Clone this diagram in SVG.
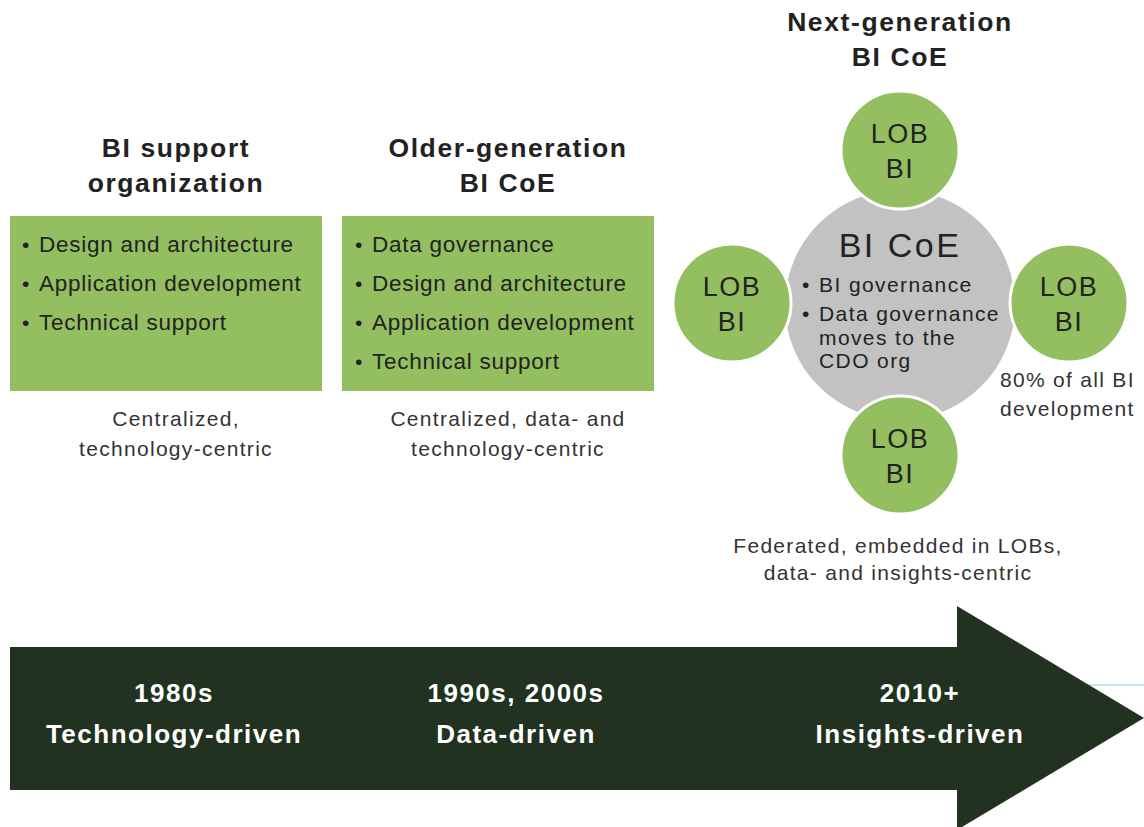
<svg xmlns="http://www.w3.org/2000/svg" width="1144" height="827" viewBox="0 0 1144 827">
<style>
.t{font-family:"Liberation Sans",Arial,sans-serif;}
.title{font-size:26.5px;font-weight:bold;fill:#222;text-anchor:middle;letter-spacing:1.6px;}
.item{font-size:22.5px;fill:#222;letter-spacing:0.75px;}
.bul{font-size:21px;fill:#222;}
.cap{font-size:21px;fill:#333;letter-spacing:1.3px;}
.capm{font-size:21px;fill:#333;text-anchor:middle;letter-spacing:1.3px;}
.lob{font-size:27px;fill:#222;text-anchor:middle;letter-spacing:1.5px;}
.era{font-size:26px;font-weight:bold;fill:#fff;text-anchor:middle;letter-spacing:1.5px;}
.gi{font-size:21px;fill:#222;letter-spacing:1.4px;}
.box{fill:#93bf61;}
.lobc{fill:#93bf61;stroke:#fff;stroke-width:3;}
</style>
<rect width="1144" height="827" fill="#fff"/>
<g id="connectors">
<line x1="1088" y1="685" x2="1144" y2="685" stroke="#9cc6e0" stroke-width="1"/>
<polygon id="timeline-arrow" points="10,647 957,647 957,606 1144,718 957,830 957,790 10,790" fill="#213320"/>
</g>
<g id="era1" class="t">
<text class="era" x="174" y="702">1980s</text>
<text class="era" x="174" y="743">Technology-driven</text>
</g>
<g id="era2" class="t">
<text class="era" x="516" y="702">1990s, 2000s</text>
<text class="era" x="516" y="743">Data-driven</text>
</g>
<g id="era3" class="t">
<text class="era" x="920" y="702">2010+</text>
<text class="era" x="920" y="743">Insights-driven</text>
</g>
<g id="stage1" class="t">
<text class="title" x="176" y="157">BI support</text>
<text class="title" x="176" y="192">organization</text>
<rect class="box" x="10" y="216" width="312" height="175"/>
<text class="bul" x="22" y="252">•</text><text class="item" x="39" y="252">Design and architecture</text>
<text class="bul" x="22" y="291">•</text><text class="item" x="39" y="291">Application development</text>
<text class="bul" x="22" y="330">•</text><text class="item" x="39" y="330">Technical support</text>
<text class="capm" x="176" y="426">Centralized,</text>
<text class="capm" x="176" y="456">technology-centric</text>
</g>
<g id="stage2" class="t">
<text class="title" x="508" y="157">Older-generation</text>
<text class="title" x="508" y="192">BI CoE</text>
<rect class="box" x="342" y="216" width="312" height="175"/>
<text class="bul" x="355" y="252">•</text><text class="item" x="372" y="252">Data governance</text>
<text class="bul" x="355" y="291">•</text><text class="item" x="372" y="291">Design and architecture</text>
<text class="bul" x="355" y="330">•</text><text class="item" x="372" y="330">Application development</text>
<text class="bul" x="355" y="369">•</text><text class="item" x="372" y="369">Technical support</text>
<text class="capm" x="508" y="426">Centralized, data- and</text>
<text class="capm" x="508" y="456">technology-centric</text>
</g>
<g id="stage3-title" class="t">
<text class="title" x="900" y="31">Next-generation</text>
<text class="title" x="900" y="66">BI CoE</text>
</g>
<g id="bi-coe" class="t">
<circle cx="900" cy="305" r="115" fill="#c1c2c1"/>
<text x="900" y="257" style="font-size:34px;fill:#222;text-anchor:middle;letter-spacing:2.5px">BI CoE</text>
<text class="bul" x="802" y="292">•</text><text class="gi" x="819" y="292">BI governance</text>
<text class="bul" x="802" y="321">•</text><text class="gi" x="819" y="321">Data governance</text>
<text class="gi" x="819" y="345">moves to the</text>
<text class="gi" x="819" y="368">CDO org</text>
</g>
<g id="lob-top" class="t">
<circle class="lobc" cx="900" cy="150" r="59"/>
<text class="lob" x="900" y="143">LOB</text>
<text class="lob" x="900" y="178">BI</text>
</g>
<g id="lob-left" class="t">
<circle class="lobc" cx="732" cy="303" r="59"/>
<text class="lob" x="732" y="296">LOB</text>
<text class="lob" x="732" y="331">BI</text>
</g>
<g id="lob-right" class="t">
<circle class="lobc" cx="1069" cy="303" r="59"/>
<text class="lob" x="1069" y="296">LOB</text>
<text class="lob" x="1069" y="331">BI</text>
</g>
<g id="lob-bottom" class="t">
<circle class="lobc" cx="900" cy="455" r="59"/>
<text class="lob" x="900" y="448">LOB</text>
<text class="lob" x="900" y="483">BI</text>
</g>
<g id="notes" class="t">
<text class="cap" x="1000" y="387">80% of all BI</text>
<text class="cap" x="1000" y="416">development</text>
<text class="capm" x="898" y="553">Federated, embedded in LOBs,</text>
<text class="capm" x="898" y="580">data- and insights-centric</text>
</g>
</svg>
